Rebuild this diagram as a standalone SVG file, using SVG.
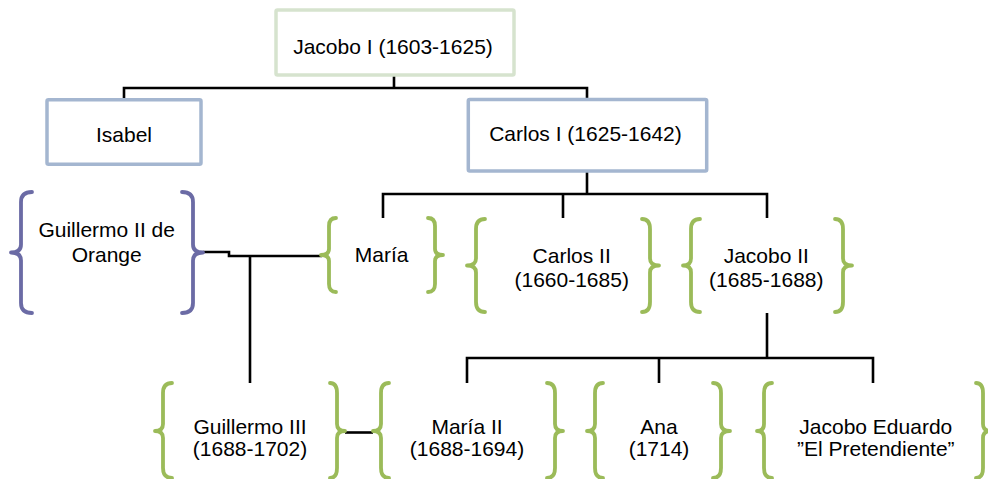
<svg xmlns="http://www.w3.org/2000/svg" width="988" height="479" viewBox="0 0 988 479">
<style>
  .box{fill:#ffffff;stroke-width:3.5}
  .g{stroke:#d6e3ce}
  .b{stroke:#a4b6d0}
  .br{fill:none;stroke-width:3.8;stroke-linecap:round;stroke-linejoin:round}
  .grn{stroke:#9bbb59}
  .pur{stroke:#6b6ba5}
  .conn{fill:none;stroke:#000000;stroke-width:2.6;stroke-linejoin:miter}
  text{font-family:"Liberation Sans",Arial,sans-serif;font-size:21px;fill:#000000;text-anchor:middle}
</style>
<rect width="988" height="479" fill="#ffffff"/>
<g id="connectors">
  <path class="conn" d="M394,76 V88 M124,99 V88 H587 V99"/>
  <path class="conn" d="M587,171 V194 M383,218 V194 H767 V218 M563,194 V218"/>
  <path class="conn" d="M767,313 V358 M467,383 V358 H873 V383 M659,358 V383"/>
  <path class="conn" d="M203,252 H229 V256 H322 M250,256 V383"/>
  <path class="conn" d="M345,432.5 H373"/>
</g>
<g id="jacobo1">
  <rect class="box g" x="276" y="10" width="238" height="65" rx="1.5"/>
  <text x="393" y="53.5">Jacobo I (1603-1625)</text>
</g>
<g id="isabel">
  <rect class="box b" x="47" y="99.7" width="154" height="64.5" rx="1.5"/>
  <text x="124" y="141.7">Isabel</text>
</g>
<g id="carlos1">
  <rect class="box b" x="468.3" y="99.5" width="238.4" height="71.5" rx="1.5"/>
  <text x="585.5" y="141">Carlos I (1625-1642)</text>
</g>
<g id="guillermo2">
  <path class="br pur" d="M32,192 Q21,192 21,202 L21,244.5 Q21,252.5 11,252.5 Q21,252.5 21,260.5 L21,303 Q21,313 32,313"/>
  <path class="br pur" d="M182,192 Q193,192 193,202 L193,244.5 Q193,252.5 203,252.5 Q193,252.5 193,260.5 L193,303 Q193,313 182,313"/>
  <text x="106.7" y="237.3">Guillermo II de</text>
  <text x="106.7" y="262.3">Orange</text>
</g>
<g id="maria">
  <path class="br grn" d="M336,218 Q329,218 329,226 L329,249 Q329,255 321,255 Q329,255 329,261 L329,284 Q329,292 336,292"/>
  <path class="br grn" d="M428,218 Q435,218 435,226 L435,249 Q435,255 443,255 Q435,255 435,261 L435,284 Q435,292 428,292"/>
  <text x="381.7" y="262.3">María</text>
</g>
<g id="carlos2">
  <path class="br grn" d="M485,219 Q476,219 476,229 L476,258.5 Q476,265.5 467,265.5 Q476,265.5 476,272.5 L476,302 Q476,312 485,312"/>
  <path class="br grn" d="M642,219 Q650,219 650,229 L650,258.5 Q650,265.5 659,265.5 Q650,265.5 650,272.5 L650,302 Q650,312 642,312"/>
  <text x="571.7" y="263.3">Carlos II</text>
  <text x="571.7" y="286.7">(1660-1685)</text>
</g>
<g id="jacobo2">
  <path class="br grn" d="M700,219 Q691,219 691,229 L691,258.5 Q691,265.5 683,265.5 Q691,265.5 691,272.5 L691,302 Q691,312 700,312"/>
  <path class="br grn" d="M835,219 Q843,219 843,229 L843,258.5 Q843,265.5 852,265.5 Q843,265.5 843,272.5 L843,302 Q843,312 835,312"/>
  <text x="766.3" y="263.3">Jacobo II</text>
  <text x="766.3" y="286.7">(1685-1688)</text>
</g>
<g id="guillermo3">
  <path class="br grn" d="M172,383 Q163,383 163,393 L163,424 Q163,431 155,431 Q163,431 163,438 L163,468 Q163,478 172,478"/>
  <path class="br grn" d="M330,383 Q337,383 337,393 L337,424 Q337,431 345,431 Q337,431 337,438 L337,468 Q337,478 330,478"/>
  <text x="250" y="433.5">Guillermo III</text>
  <text x="250" y="456">(1688-1702)</text>
</g>
<g id="maria2">
  <path class="br grn" d="M389,383 Q381,383 381,393 L381,424 Q381,431 373,431 Q381,431 381,438 L381,468 Q381,478 389,478"/>
  <path class="br grn" d="M547,383 Q555,383 555,393 L555,424 Q555,431 563,431 Q555,431 555,438 L555,468 Q555,478 547,478"/>
  <text x="467" y="433.5">María II</text>
  <text x="467" y="456">(1688-1694)</text>
</g>
<g id="ana">
  <path class="br grn" d="M603,383 Q595,383 595,393 L595,424 Q595,431 587,431 Q595,431 595,438 L595,468 Q595,478 603,478"/>
  <path class="br grn" d="M713,383 Q721,383 721,393 L721,424 Q721,431 730,431 Q721,431 721,438 L721,468 Q721,478 713,478"/>
  <text x="659" y="433.5">Ana</text>
  <text x="659" y="456">(1714)</text>
</g>
<g id="jacoboEduardo">
  <path class="br grn" d="M772,383 Q764,383 764,393 L764,424 Q764,431 757,431 Q764,431 764,438 L764,468 Q764,478 772,478"/>
  <path class="br grn" d="M976,383 Q983,383 983,393 L983,424 Q983,431 991,431 Q983,431 983,438 L983,468 Q983,478 976,478"/>
  <text x="875.8" y="433.5">Jacobo Eduardo</text>
  <text x="875.8" y="456">”El Pretendiente”</text>
</g>
</svg>
